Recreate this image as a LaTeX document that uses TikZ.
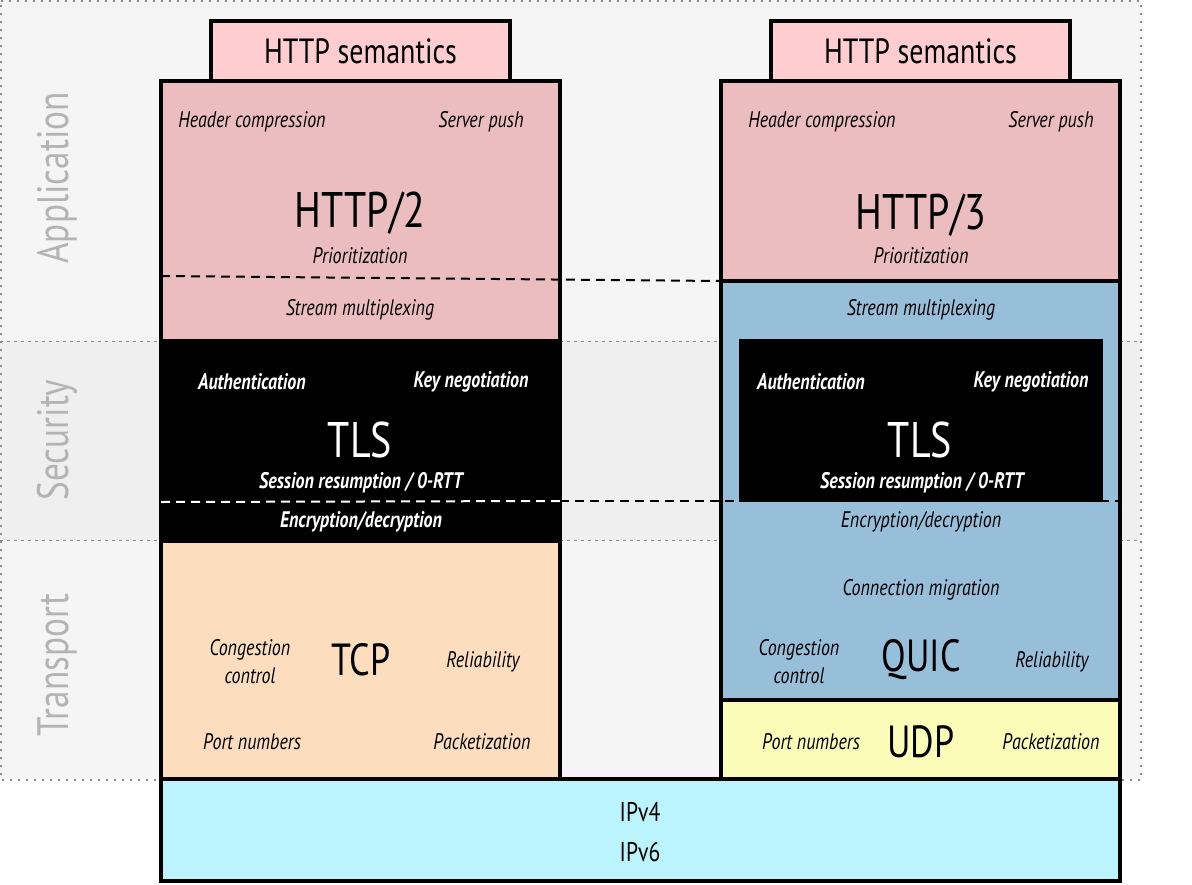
\documentclass[tikz,border=0pt]{standalone}
\usepackage{fontspec}
\setmainfont{PT Sans}[FakeStretch=0.80]
\definecolor{bgA}{HTML}{F5F5F5}
\definecolor{bgB}{HTML}{EFEFEF}
\definecolor{bandline}{HTML}{8A8A8A}
\definecolor{labgrey}{HTML}{B4B4B4}
\definecolor{sempink}{HTML}{FDCDD0}
\definecolor{httppink}{HTML}{EBBDBF}
\definecolor{tcpor}{HTML}{FCDEBE}
\definecolor{quicblue}{HTML}{98BFDA}
\definecolor{udpyel}{HTML}{FBFCB7}
\definecolor{ipcyan}{HTML}{BBF4FD}
\begin{document}
\begin{tikzpicture}[x=1pt,y=-1pt,
  layer/.style={draw=black,line width=4pt,inner sep=0pt,outer sep=0pt,anchor=north west},
  it/.style={font=\fontsize{22.5}{25}\selectfont\itshape,text=black,align=center},
  wit/.style={font=\fontsize{22.5}{25}\selectfont\bfseries\itshape,text=white},
  big/.style={font=\fontsize{50}{54}\selectfont},
  mid/.style={font=\fontsize{45}{50}\selectfont},
  sem/.style={font=\fontsize{35}{40}\selectfont},
  band/.style={rotate=90,font=\fontsize{44}{48}\selectfont,text=labgrey},
  sep/.style={draw=bandline,line width=1pt,dash pattern=on 3pt off 4pt},
  div/.style={line width=2pt,dash pattern=on 9pt off 6pt}]
\useasboundingbox (0,0) rectangle (1192,884);
% background bands
\fill[bgA] (0,0) rectangle (1141,780);
\fill[bgB] (0,341) rectangle (1141,540);
\draw[draw=bandline,line width=1.5pt,dash pattern=on 2pt off 6pt] (1,1) -- (1141,1) -- (1141,780) -- (1,780) -- cycle;
\draw[sep] (0,341) -- (1141,341);
\draw[sep] (0,540) -- (1141,540);
\node[band] (lapp) at (57,178) {Application};
\node[band] (lsec) at (57,440) {Security};
\node[band] (ltra) at (57,665) {Transport};
% left stack
\node[layer,fill=sempink,minimum width=299pt,minimum height=60pt] (sem2) at (211,21) {};
\node[sem] at (sem2.center) {HTTP semantics};
\node[layer,fill=httppink,minimum width=399pt,minimum height=260pt] (h2) at (161,81) {};
\node[layer,fill=black,minimum width=399pt,minimum height=200pt] (tls2) at (161,341) {};
\node[layer,fill=tcpor,minimum width=399pt,minimum height=238pt] (tcp) at (161,541) {};
% right stack
\node[layer,fill=sempink,minimum width=299pt,minimum height=60pt] (sem3) at (771,21) {};
\node[sem] at (sem3.center) {HTTP semantics};
\node[layer,fill=httppink,minimum width=399pt,minimum height=200pt] (h3) at (721,81) {};
\node[layer,fill=quicblue,minimum width=399pt,minimum height=419pt] (quic) at (721,281) {};
\node[layer,fill=udpyel,minimum width=399pt,minimum height=79pt] (udp) at (721,700) {};
\node[layer,fill=ipcyan,minimum width=959pt,minimum height=102pt] (ip) at (161,779) {};
% dashed dividers
\coordinate (d1a) at (161,276);
\coordinate (d1b) at (721,281);
\draw[div,black] (d1a) -- (d1b);
\coordinate (d2a) at (161,502);
\coordinate (d2m) at (560,501);
\coordinate (d2b) at (1120,501);
\draw[div,white] (d2a) -- (d2m);
\draw[div,black] (d2m) -- (d2b);
% inner TLS
\node[fill=black,inner sep=0pt,outer sep=0pt,anchor=north west,minimum width=364pt,minimum height=163pt] (tls3) at (739,339) {};
% left texts
\node[it] (a1) at (252,122) {Header compression};
\node[it] (a2) at (481,122) {Server push};
\node[big] (a3) at (360,213) {HTTP/2};
\node[it] (a4) at (360,256) {Prioritization};
\node[it] (a5) at (360,310) {Stream multiplexing};
\node[wit] (a6) at (252,382) {Authentication};
\node[wit] (a7) at (471,382) {Key negotiation};
\node[big,text=white] (a8) at (360,440) {TLS};
\node[wit] (a9) at (361,483) {Session resumption / 0-RTT};
\node[wit] (a10) at (361,522) {Encryption/decryption};
\node[it,font=\fontsize{22.5}{28}\selectfont\itshape] (a11) at (250,662) {Congestion\\control};
\node[mid] (a12) at (361,660) {TCP};
\node[it] (a13) at (483,662) {Reliability};
\node[it] (a14) at (252,742) {Port numbers};
\node[it] (a15) at (482,742) {Packetization};
% right texts
\node[it] (b1) at (822,122) {Header compression};
\node[it] (b2) at (1051,122) {Server push};
\node[big] (b3) at (921,215) {HTTP/3};
\node[it] (b4) at (921,256) {Prioritization};
\node[it] (b5) at (921,310) {Stream multiplexing};
\node[wit] (b6) at (811,382) {Authentication};
\node[wit] (b7) at (1031,382) {Key negotiation};
\node[big,text=white] (b8) at (920,440) {TLS};
\node[wit] (b9) at (922,483) {Session resumption / 0-RTT};
\node[it] (b10) at (921,522) {Encryption/decryption};
\node[it] (b11) at (921,590) {Connection migration};
\node[it,font=\fontsize{22.5}{28}\selectfont\itshape] (b12) at (799,662) {Congestion\\control};
\node[mid] (b13) at (921,660) {QUIC};
\node[it] (b14) at (1052,662) {Reliability};
\node[it] (b15) at (811,742) {Port numbers};
\node[mid] (b16) at (921,742) {UDP};
\node[it] (b17) at (1051,742) {Packetization};
% network layer
\node[font=\fontsize{27}{40}\selectfont,align=center] (ipt) at (640,832) {IPv4\\IPv6};
\end{tikzpicture}
\end{document}
